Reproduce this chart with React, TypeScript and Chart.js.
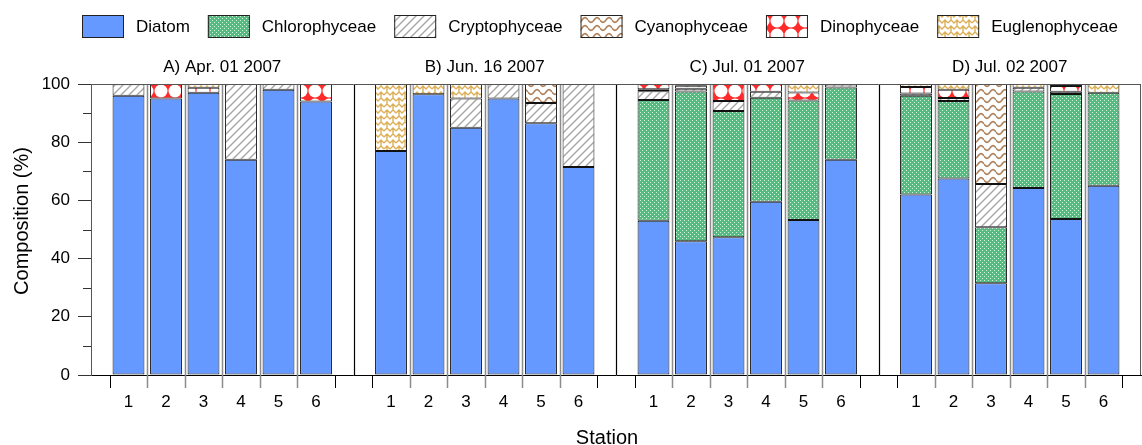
import { useEffect, useRef } from 'react';
import { Chart, registerables } from 'chart.js';

Chart.register(...registerables);

// ---------------- data ----------------
const PANEL_TITLES = ['A) Apr. 01 2007', 'B) Jun. 16 2007', 'C) Jul. 01 2007', 'D) Jul. 02 2007'];
const STATIONS = ['1', '2', '3', '4', '5', '6'];
const SERIES_NAMES = ['Diatom', 'Chlorophyceae', 'Cryptophyceae', 'Cyanophyceae', 'Dinophyceae', 'Euglenophyceae'];

// order: A1..A6, B1..B6, C1..C6, D1..D6  (composition %)
const DIATOM = [96, 95, 97, 74, 98, 94, 77, 96.5, 85, 95, 86.5, 71.5, 53, 46, 47.3, 59.5, 53.3, 74, 62, 67.5, 31.5, 64.3, 53.6, 65];
const CHLORO = [0, 0, 0, 0, 0, 0, 0, 0, 0, 0, 0, 0, 41.5, 51.4, 43.4, 35.8, 41, 24.8, 34, 26.7, 19.3, 33.1, 43, 32];
const CRYPTO = [3.9, 0, 0, 26, 2, 0, 0, 0, 10, 5, 7, 28.5, 3, 1, 3.5, 2, 0, 1, 0.7, 1, 14.8, 1.3, 0.7, 0];
const CYANO = [0, 0, 0, 0, 0, 0, 0, 0, 0, 0, 6.5, 0, 0.7, 1, 0, 0, 0, 0, 0, 0, 34.4, 0, 0, 0];
const DINO = [0, 5, 1.7, 0, 0, 6, 0, 0, 0, 0, 0, 0, 1.8, 0.6, 5.8, 2.7, 2.8, 0, 2.3, 2.8, 0, 0, 2, 0];
const EUGL = [0, 0, 1.3, 0, 0, 0, 23, 3.5, 5, 0, 0, 0, 0, 0, 0, 0, 2.9, 0, 1, 2, 0, 1.3, 0.7, 3];

const Y_TICKS = [0, 20, 40, 60, 80, 100];
const Y_MINOR = [10, 30, 50, 70, 90];

const FONT = "'Liberation Sans', Arial, sans-serif";

// ---------------- patterns ----------------
function makePattern(w: number, h: number, draw: (c: CanvasRenderingContext2D) => void): CanvasPattern | string {
  const cv = document.createElement('canvas');
  cv.width = w;
  cv.height = h;
  const c = cv.getContext('2d');
  if (!c) return '#ccc';
  draw(c);
  return c.createPattern(cv, 'repeat') || '#ccc';
}

function buildFills() {
  const diatom = '#6699FF';
  const chloro = makePattern(4, 4, (c) => {
    c.fillStyle = '#55bb80';
    c.fillRect(0, 0, 4, 4);
    c.fillStyle = '#d6f1df';
    c.fillRect(0, 0, 1, 1);
    c.fillRect(2, 2, 1, 1);
  });
  const crypto = makePattern(8, 8, (c) => {
    c.fillStyle = '#fff';
    c.fillRect(0, 0, 8, 8);
    c.strokeStyle = '#a6a6a6';
    c.lineWidth = 1.4;
    c.beginPath();
    c.moveTo(-1, 9); c.lineTo(9, -1);
    c.moveTo(-1, 1); c.lineTo(1, -1);
    c.moveTo(7, 9); c.lineTo(9, 7);
    c.stroke();
  });
  const cyano = makePattern(12, 8, (c) => {
    c.fillStyle = '#fff';
    c.fillRect(0, 0, 12, 8);
    c.strokeStyle = '#b0805a';
    c.lineWidth = 1.6;
    c.beginPath();
    for (let i = 0; i <= 24; i++) {
      const x = (i / 24) * 12;
      const y = 4 + 2.4 * Math.sin((x / 12) * Math.PI * 2);
      if (i === 0) c.moveTo(x, y); else c.lineTo(x, y);
    }
    c.stroke();
  });
  const dino = makePattern(14, 14, (c) => {
    c.fillStyle = '#ff2a2a';
    c.fillRect(0, 0, 14, 14);
    c.fillStyle = '#fff';
    c.beginPath();
    c.arc(7, 7, 6.5, 0, Math.PI * 2);
    c.fill();
  });
  const eugl = makePattern(12, 12, (c) => {
    c.fillStyle = '#fff';
    c.fillRect(0, 0, 12, 12);
    c.strokeStyle = '#dcae55';
    c.lineWidth = 1.4;
    c.beginPath();
    c.moveTo(0, 5); c.lineTo(3, 2); c.lineTo(6, 5); c.lineTo(9, 2); c.lineTo(12, 5);
    c.moveTo(0, 11); c.lineTo(3, 8); c.lineTo(6, 11); c.lineTo(9, 8); c.lineTo(12, 11);
    c.moveTo(3, 2); c.lineTo(3, 8);
    c.moveTo(9, 8); c.lineTo(9, 14);
    c.moveTo(9, -4); c.lineTo(9, 2);
    c.stroke();
  });
  return [diatom, chloro, crypto, cyano, dino, eugl];
}

// station index -> x value (7 units per panel, half-unit margins)
const xPos = (i: number) => Math.floor(i / 6) * 7 + (i % 6) + 1;

const decorPlugin = {
  id: 'decor',
  afterDraw(chart: any) {
    const { ctx, chartArea, scales } = chart;
    const { left, right, top, bottom } = chartArea;
    const x = scales.x;
    const y = scales.y;
    ctx.save();
    const px = (v: number) => Math.round(x.getPixelForValue(v)) + 0.5;

    // slot boundaries
    for (let p = 0; p < PANEL_TITLES.length; p++) {
      for (let k = 0; k <= 6; k++) {
        const xx = px(p * 7 + 0.5 + k);
        ctx.beginPath();
        if (k === 0 || k === 6) {
          ctx.strokeStyle = '#000';
          ctx.lineWidth = 1;
          ctx.moveTo(xx, bottom);
        } else {
          ctx.strokeStyle = '#8c8c8c';
          ctx.lineWidth = 1.5;
          ctx.moveTo(xx, top);
        }
        ctx.lineTo(xx, bottom + 13);
        ctx.stroke();
      }
    }
    // panel separators
    ctx.strokeStyle = '#000';
    ctx.lineWidth = 1.2;
    for (let p = 1; p < PANEL_TITLES.length; p++) {
      const xx = px(p * 7);
      ctx.beginPath();
      ctx.moveTo(xx, top);
      ctx.lineTo(xx, bottom);
      ctx.stroke();
    }
    // frame top & right
    ctx.strokeStyle = '#555';
    ctx.lineWidth = 1;
    ctx.beginPath();
    ctx.moveTo(left, Math.round(top) + 0.5);
    ctx.lineTo(right, Math.round(top) + 0.5);
    ctx.moveTo(Math.round(right) - 0.5, top);
    ctx.lineTo(Math.round(right) - 0.5, bottom);
    ctx.stroke();

    // minor y ticks
    ctx.strokeStyle = '#333';
    ctx.lineWidth = 1;
    Y_MINOR.forEach((v) => {
      const yy = Math.round(y.getPixelForValue(v)) + 0.5;
      ctx.beginPath();
      ctx.moveTo(left - 8, yy);
      ctx.lineTo(left, yy);
      ctx.stroke();
    });

    // panel titles
    ctx.fillStyle = '#000';
    ctx.font = `17px ${FONT}`;
    ctx.textAlign = 'center';
    ctx.textBaseline = 'middle';
    PANEL_TITLES.forEach((t, p) => {
      ctx.fillText(t, x.getPixelForValue(p * 7 + 3.5), 67);
    });

    // axis titles
    ctx.font = `20px ${FONT}`;
    ctx.fillText('Station', 607, 438);
    ctx.save();
    ctx.translate(22, 221);
    ctx.rotate(-Math.PI / 2);
    ctx.fillText('Composition (%)', 0, 0);
    ctx.restore();

    // legend
    ctx.font = `17px ${FONT}`;
    ctx.textAlign = 'left';
    let lx = 82;
    chart.data.datasets.forEach((ds: any) => {
      ctx.fillStyle = ds.backgroundColor;
      ctx.fillRect(lx, 15, 42, 23);
      ctx.strokeStyle = '#222';
      ctx.lineWidth = 1;
      ctx.strokeRect(lx + 0.5, 15.5, 41, 22);
      ctx.fillStyle = '#000';
      ctx.fillText(ds.label, lx + 54, 27);
      lx += 54 + ctx.measureText(ds.label).width + 18;
    });
    ctx.restore();
  },
};

export default function App() {
  const ref = useRef<HTMLCanvasElement | null>(null);

  useEffect(() => {
    document.body.style.margin = '0';
    const canvas = ref.current;
    if (!canvas) return;
    const fills = buildFills();
    const seriesValues = [DIATOM, CHLORO, CRYPTO, CYANO, DINO, EUGL];
    const centers = DIATOM.map((_, i) => xPos(i));

    const chart = new Chart(canvas, {
      type: 'bar',
      data: {
        datasets: seriesValues.map((vals, k) => ({
          label: SERIES_NAMES[k],
          data: vals.map((v, i) => ({ x: xPos(i), y: v > 0 ? v : null })),
          backgroundColor: fills[k] as any,
          borderColor: '#111',
          borderWidth: 1,
          borderSkipped: false,
          barPercentage: 0.85,
          categoryPercentage: 1,
        })),
      } as any,
      plugins: [decorPlugin],
      options: {
        responsive: false,
        animation: false,
        events: [],
        layout: { padding: { top: 84, right: 1, left: 0, bottom: 0 } },
        plugins: {
          legend: { display: false },
          title: { display: false },
          tooltip: { enabled: false },
        },
        scales: {
          x: {
            type: 'linear',
            min: 0,
            max: 28,
            stacked: true,
            offset: false,
            afterFit: (s: any) => { s.height = 70; },
            afterBuildTicks: (s: any) => { s.ticks = centers.map((v) => ({ value: v })); },
            ticks: {
              autoSkip: false,
              maxRotation: 0,
              padding: 4,
              color: '#000',
              font: { family: FONT, size: 17 },
              callback: (v: any) => STATIONS[(Number(v) - 1) % 7] ?? '',
            },
            grid: { display: true, drawOnChartArea: false, drawTicks: true, tickLength: 13, color: 'rgba(0,0,0,0)' },
            border: { display: true, color: '#000', width: 1 },
          },
          y: {
            min: 0,
            max: 100,
            stacked: true,
            afterFit: (s: any) => { s.width = 91; },
            afterBuildTicks: (s: any) => { s.ticks = Y_TICKS.map((v) => ({ value: v })); },
            ticks: {
              padding: 8,
              color: '#000',
              font: { family: FONT, size: 17 },
            },
            grid: { display: true, drawOnChartArea: false, drawTicks: true, tickLength: 13, color: '#333' },
            border: { display: true, color: '#555', width: 1 },
          },
        },
      } as any,
    });
    return () => chart.destroy();
  }, []);

  return (
    <div style={{ width: 1142, height: 445 }}>
      <canvas ref={ref} width={1142} height={445} style={{ display: 'block' }} />
    </div>
  );
}
